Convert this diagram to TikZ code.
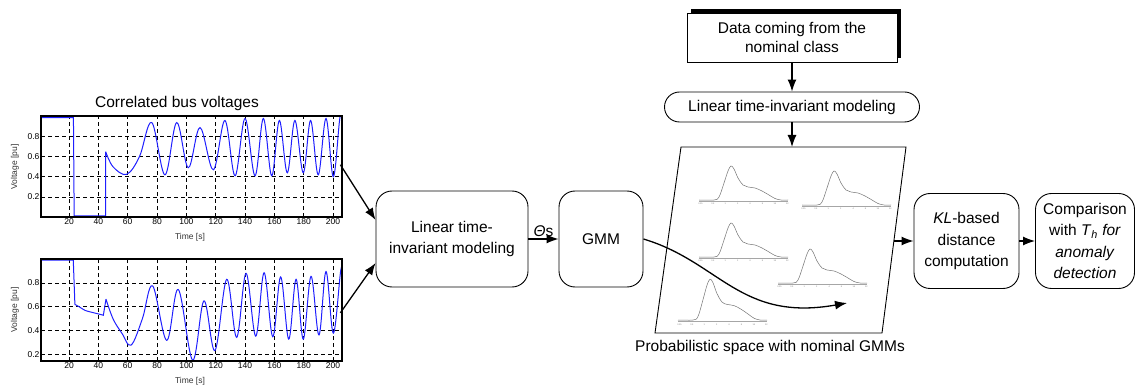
\documentclass[tikz,border=0pt]{standalone}
\usepackage{fontspec}
\setmainfont{Liberation Sans}
\usetikzlibrary{arrows.meta}
\usetikzlibrary{shadows}
\usetikzlibrary{positioning}
\definecolor{traceblue}{rgb}{0.12,0.12,1}
\definecolor{pdfgray}{gray}{0.45}

\tikzset{
  txt/.style={font=\fontsize{15.5}{21.5}\selectfont},
  block/.style={txt, draw, line width=0.9pt, rounded corners=16pt, align=center, minimum height=96pt, inner sep=2pt},
  pill/.style={txt, draw, line width=0.9pt, rounded corners=15pt, minimum width=255pt, minimum height=30pt},
  sourcebox/.style={txt, font=\fontsize{15.5}{19}\selectfont, draw, line width=0.9pt, fill=white, align=center,
    minimum width=210pt, minimum height=49pt,
    drop shadow={shadow xshift=3.5pt, shadow yshift=3.5pt, fill=black, opacity=1}},
  arrow/.style={line width=1.3pt, -{Latex[length=12pt, width=9pt]}},
  gridline/.style={black, line width=0.7pt, dash pattern=on 4pt off 3pt},
  frame/.style={black, line width=1.4pt},
  vtrace/.style={traceblue, line width=1pt},
  ticklbl/.style={font=\fontsize{8.5}{9}\selectfont, inner sep=1.5pt},
  axlbl/.style={font=\fontsize{8.5}{9}\selectfont, text=black!80},
}
\tikzset{pics/.cd, density/.style={code={%
  \draw[gray!70, line width=0.2pt] (0,1) -- (89,1);
  \foreach \lbl [count=\i] in {0.25,0.5,1,2,4,8,16,32}
    \node[font=\fontsize{2.2}{2.5}\selectfont, text=gray, inner sep=0] at ({(\i-1)*12.4+1.5},4) {\lbl};
  \draw[pdfgray, line width=0.5pt] plot[smooth, tension=0.6] coordinates {(0,0) (15,0) (20,-3) (25,-17) (29,-29)
    (32,-34) (35,-31) (39,-22) (44,-15) (49,-13) (56,-12) (63,-9) (70,-5) (76,-1.5) (82,0) (89,0)};
}}}

\begin{document}
\begin{tikzpicture}[x=1pt, y=-1pt]
\useasboundingbox (0,0) rectangle (1137,387);

% upper voltage trace
\node[txt] (title) at (177,103) {Correlated bus voltages};
\begin{scope}[shift={(39.7,217)}, xscale=1.4667, yscale=-100.5]
  \foreach \t in {20,40,...,200} {
    \draw[gridline] (\t,0) -- (\t,1.005);
    \node[ticklbl, below] at (\t,0) {\t};
  }
  \foreach \v in {0.2,0.4,0.6,0.8} {
    \draw[gridline] (1,\v) -- (206,\v);
    \node[ticklbl, left] at (1,\v) {\v};
  }
  \begin{scope}
    \clip (1,0) rectangle (206,1.005);
    \draw[vtrace] (1,0.99) -- (23,0.99) -- (23.5,0.012) -- (45,0.012) -- (45,0.65)
      plot[smooth, tension=0.6] coordinates {(45,0.65) (50,0.5) (59.3,0.425) (68,0.6) (76.4,0.94)
      (85.4,0.42) (93.4,0.94) (101.3,0.49) (109.3,0.89) (118.4,0.47) (126.3,0.96) (133.2,0.41)
      (140,0.98) (146.8,0.41) (152.5,0.98) (158.2,0.41) (163.4,0.96) (168.8,0.44) (174,0.96)
      (179.7,0.44) (184.7,0.96) (189.9,0.42) (195.2,0.98) (200.2,0.40) (204.7,0.99) (207,0.97)};
  \end{scope}
  \draw[frame] (1,0) rectangle (206,1.005);
  \coordinate (v1-out) at (205,0.52);
\end{scope}
\node[axlbl] (time1) at (190,237) {Time [s]};
\node[axlbl, rotate=90] (volt1) at (15,167) {Voltage [pu]};

% lower voltage trace
\begin{scope}[shift={(39.7,378.6)}, xscale=1.4667, yscale=-119.6]
  \foreach \t in {20,40,...,200} {
    \draw[gridline] (\t,0.147) -- (\t,1);
    \node[ticklbl, below] at (\t,0.147) {\t};
  }
  \foreach \v in {0.2,0.4,0.6,0.8} {
    \draw[gridline] (1,\v) -- (206,\v);
    \node[ticklbl, left] at (1,\v) {\v};
  }
  \begin{scope}
    \clip (1,0.147) rectangle (206,1);
    \draw[vtrace] (1,0.99) -- (22.9,0.99) -- (24,0.62)
      plot[smooth, tension=0.5] coordinates {(24,0.62) (27,0.6) (31,0.57) (37,0.55) (43.4,0.53)}
      -- (45.2,0.665)
      plot[smooth, tension=0.6] coordinates {(45.2,0.665) (50,0.5) (56,0.38) (62.3,0.28) (70,0.5)
      (77,0.775) (86.6,0.32) (94.5,0.745) (104.3,0.155) (112,0.65) (119.5,0.235) (127.5,0.83)
      (134.3,0.345) (140.7,0.88) (147.3,0.355) (153,0.885) (158.9,0.35) (164.3,0.85) (169.8,0.33)
      (174.8,0.83) (179.7,0.33) (185,0.855) (190.4,0.365) (195.2,0.895) (200.2,0.38) (205.2,0.9) (207,0.92)};
  \end{scope}
  \draw[frame] (1,0.147) rectangle (206,1);
  \coordinate (v2-out) at (205,0.55);
\end{scope}
\node[axlbl] (time2) at (190,381) {Time [s]};
\node[axlbl, rotate=90] (volt2) at (15,310) {Voltage [pu]};

% processing chain
\node[block, minimum width=152pt] (lti) at (452,239) {Linear time-\\invariant modeling};
\node[block, minimum width=84pt] (gmm) at (601,239) {GMM};
\node[block, minimum width=105pt, minimum height=95pt] (kl) at (966.5,241) {\textit{KL}-based\\distance\\computation};
\node[block, minimum width=99pt, minimum height=95pt] (cmp) at (1085,241)
  {Comparison\\with \textit{T}\textsubscript{\textit{h}} \textit{for}\\\textit{anomaly}\\\textit{detection}};

% nominal branch
\node[sourcebox] (data) at (792,37.5) {Data coming from the\\nominal class};
\node[pill] (lti2) at (792,107) {Linear time-invariant modeling};

% probabilistic space
\coordinate (sp-nw) at (681,147);
\coordinate (sp-ne) at (906,147);
\coordinate (sp-se) at (882,333);
\coordinate (sp-sw) at (655,333);
\coordinate (sp-n) at (792,147);
\coordinate (sp-e) at (894,241);
\coordinate (sp-end) at (847,303);
\draw[line width=0.9pt] (sp-nw) -- (sp-ne) -- (sp-se) -- (sp-sw) -- cycle;
\pic at (699,200) {density};
\pic at (802,205) {density};
\pic at (699,257) {density};
\pic at (778,283) {density};
\pic[yscale=1.2] at (678,320) {density};
\node[txt] (caption) at (770,347) {Probabilistic space with nominal GMMs};

% connectors
\draw[arrow] (v1-out) -- ([yshift=19pt]lti.west);
\draw[arrow] (v2-out) -- ([yshift=-24pt]lti.west);
\draw[arrow] (lti) -- node[txt, above, inner sep=2pt] {\textit{Θ}s} (gmm);
\draw[arrow] (gmm.east) .. controls (720,262) and (740,322) .. (sp-end);
\draw[arrow] (data) -- (lti2);
\draw[arrow] (lti2) -- (sp-n);
\draw[arrow] (sp-e) -- (kl);
\draw[arrow] (kl) -- (cmp);
\end{tikzpicture}
\end{document}
